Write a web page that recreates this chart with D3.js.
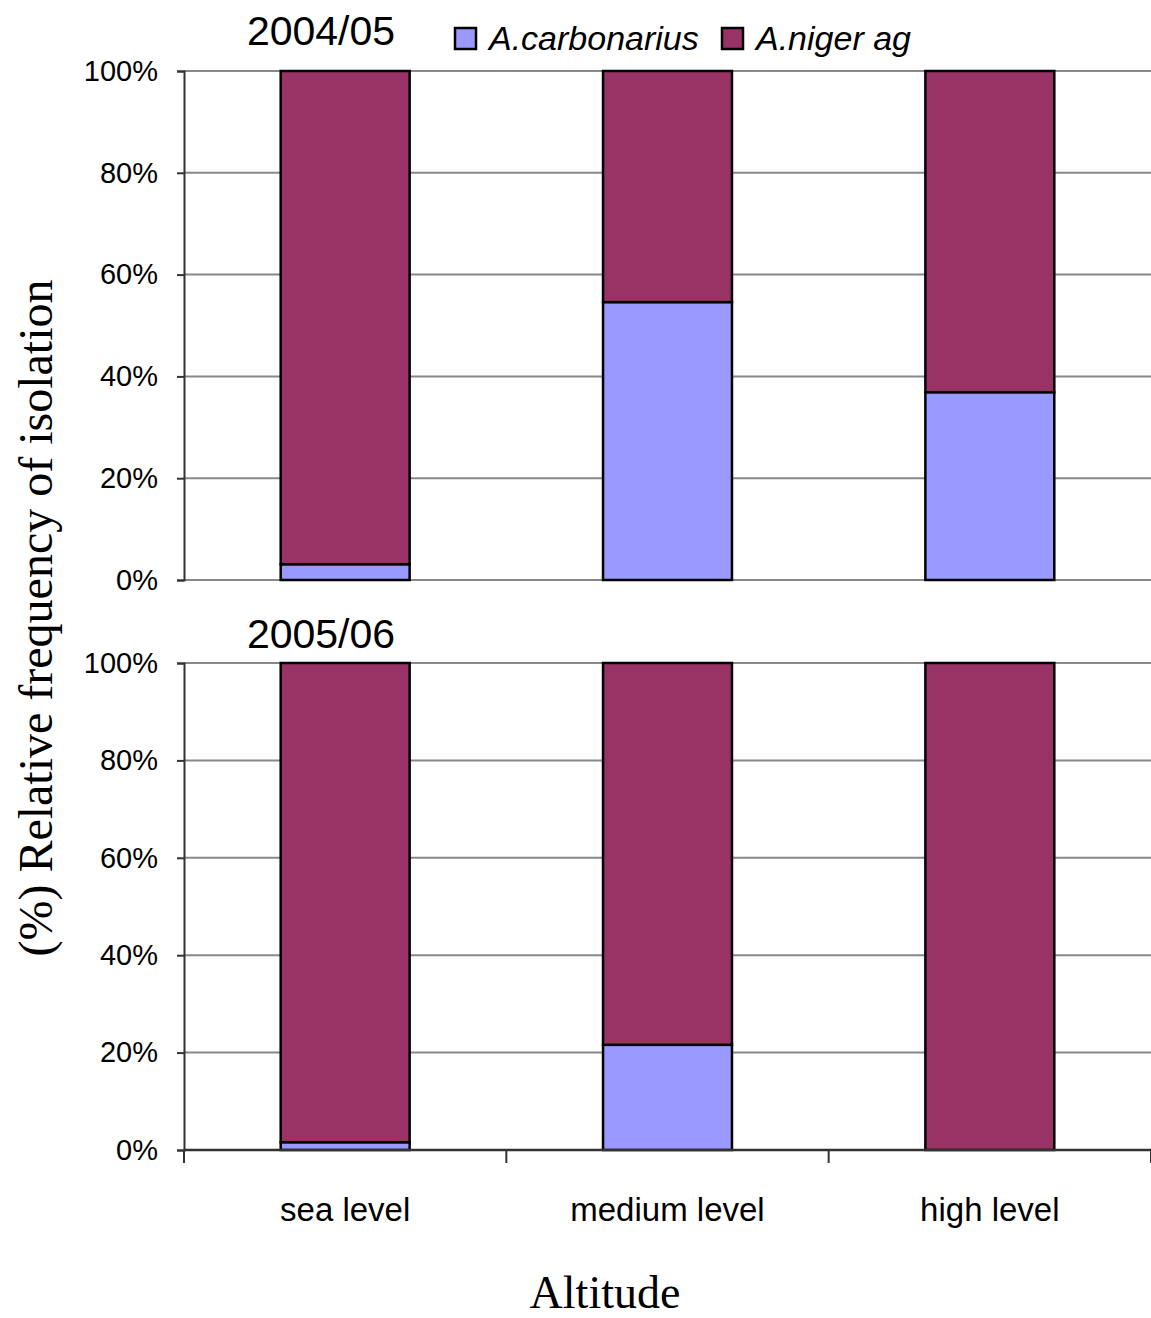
<!DOCTYPE html>
<html>
<head>
<meta charset="utf-8">
<script src="https://cdn.jsdelivr.net/npm/d3@7"></script>
<style>
  html, body { margin: 0; padding: 0; background: #fff; }
  svg { display: block; }
</style>
</head>
<body>
<svg id="chart" width="1151" height="1318"></svg>
<script>
// Altitude categories and species shares (%) for each season
const categories = ["sea level", "medium level", "high level"];
const seriesNames = ["A.carbonarius", "A.niger ag"];
const carbonarius0405 = [3.1, 54.6, 36.9];
const niger0405 = [96.9, 45.4, 63.1];
const carbonarius0506 = [1.6, 21.6, 0];
const niger0506 = [98.4, 78.4, 100];
const seasons = ["2004/05", "2005/06"];
const yTicks = [0, 20, 40, 60, 80, 100];

const colors = { "A.carbonarius": "#9999FF", "A.niger ag": "#993366" };

const svg = d3.select("#chart");
const left = 184, right = 1151;

const x = d3.scaleBand()
  .domain(categories)
  .range([left, right])
  .paddingInner(0.6)
  .paddingOuter(0.3);

const panels = [
  { season: seasons[0], carb: carbonarius0405, nig: niger0405, top: 71, bottom: 580, titleY: 45, showX: false },
  { season: seasons[1], carb: carbonarius0506, nig: niger0506, top: 663, bottom: 1150, titleY: 648, showX: true }
];

panels.forEach(p => {
  const y = d3.scaleLinear().domain([0, 100]).range([p.bottom, p.top]);
  const g = svg.append("g");

  // horizontal gridlines
  g.selectAll("line.grid")
    .data(yTicks)
    .join("line")
    .attr("x1", left).attr("x2", right)
    .attr("y1", d => y(d)).attr("y2", d => y(d))
    .attr("stroke", "#888").attr("stroke-width", 2);

  // y axis
  const yAxis = d3.axisLeft(y).tickValues(yTicks).tickFormat(d => d + "%").tickSize(7).tickPadding(19);
  const ya = g.append("g").attr("transform", `translate(${left},0)`).call(yAxis);
  ya.select(".domain").attr("stroke", "#333").attr("stroke-width", 2);
  ya.selectAll(".tick line").attr("stroke", "#333").attr("stroke-width", 2);
  ya.selectAll(".tick text")
    .attr("font-family", "Liberation Sans, Arial, sans-serif")
    .attr("font-size", 29).attr("fill", "#000");

  // stacked bars
  const rows = categories.map((c, i) => ({ cat: c, "A.carbonarius": p.carb[i], "A.niger ag": p.nig[i] }));
  const stacked = d3.stack().keys(seriesNames)(rows);
  stacked.forEach(layer => {
    g.append("g").selectAll("rect")
      .data(layer.filter(d => d[1] - d[0] > 0))
      .join("rect")
      .attr("x", d => x(d.data.cat))
      .attr("width", x.bandwidth())
      .attr("y", d => y(d[1]))
      .attr("height", d => y(d[0]) - y(d[1]))
      .attr("fill", colors[layer.key])
      .attr("stroke", "#000").attr("stroke-width", 2.5);
  });

  // bottom axis
  if (p.showX) {
    const edges = categories.map(c => x(c) - x.step() * x.paddingInner() / 2).concat([right]);
    edges[0] = left;
    const xa = g.append("g");
    xa.append("line").attr("x1", left).attr("x2", right)
      .attr("y1", p.bottom).attr("y2", p.bottom)
      .attr("stroke", "#333").attr("stroke-width", 2.5);
    xa.selectAll("line.tk").data(edges).join("line")
      .attr("x1", d => d).attr("x2", d => d)
      .attr("y1", p.bottom).attr("y2", p.bottom + 13)
      .attr("stroke", "#333").attr("stroke-width", 2);
    xa.selectAll("text").data(categories).join("text")
      .attr("x", d => x(d) + x.bandwidth() / 2)
      .attr("y", 1221)
      .attr("text-anchor", "middle")
      .attr("font-family", "Liberation Sans, Arial, sans-serif")
      .attr("font-size", 33)
      .text(d => d);
  }

  // season title
  svg.append("text")
    .attr("x", 321).attr("y", p.titleY)
    .attr("text-anchor", "middle")
    .attr("font-family", "Liberation Sans, Arial, sans-serif")
    .attr("font-size", 41)
    .text(p.season);
});

// legend
const legendItems = [
  { name: seriesNames[0], x: 455 },
  { name: seriesNames[1], x: 722 }
];
const lg = svg.append("g");
legendItems.forEach(it => {
  lg.append("rect")
    .attr("x", it.x).attr("y", 28).attr("width", 21).attr("height", 21)
    .attr("fill", colors[it.name]).attr("stroke", "#000").attr("stroke-width", 2.5);
  lg.append("text")
    .attr("x", it.x + 34).attr("y", 50)
    .attr("font-family", "Liberation Sans, Arial, sans-serif")
    .attr("font-style", "italic")
    .attr("font-size", 34)
    .text(it.name);
});

// axis titles
svg.append("text")
  .attr("x", 605).attr("y", 1308)
  .attr("text-anchor", "middle")
  .attr("font-family", "Liberation Serif, Times New Roman, serif")
  .attr("font-size", 46)
  .text("Altitude");

svg.append("text")
  .attr("transform", "translate(52,618) rotate(-90)")
  .attr("text-anchor", "middle")
  .attr("font-family", "Liberation Serif, Times New Roman, serif")
  .attr("font-size", 48)
  .text("(%) Relative frequency of isolation");
</script>
</body>
</html>
